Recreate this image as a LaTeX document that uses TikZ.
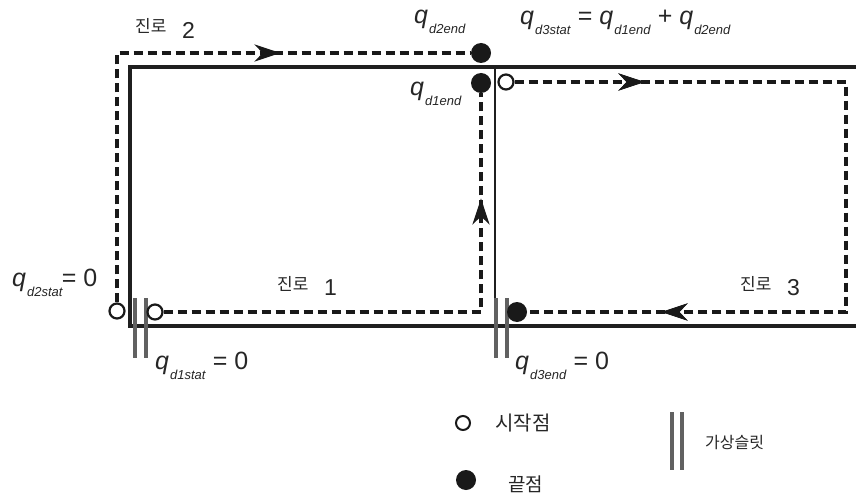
\documentclass[tikz,border=0pt]{standalone}
\usepackage{fontspec}
\setmainfont{Liberation Sans}
\newfontfamily\kr{Noto Sans CJK KR}
\usetikzlibrary{arrows.meta,decorations.markings}
\newcommand\qsub[1]{\textit{q}\kern1pt\raisebox{-0.4em}{\fontsize{13}{13}\selectfont\textit{#1}}}
\begin{document}
\begin{tikzpicture}[x=1pt,y=-1pt,
  wall/.style={line width=3.8pt, black!88},
  slitbar/.style={line width=3.6pt, black!62},
  route/.style={line width=3.3pt, dash pattern=on 9pt off 5pt, black!90},
  startpt/.style={circle, draw=black!90, line width=2.2pt, minimum size=15pt, inner sep=0pt},
  endpt/.style={circle, fill=black!90, minimum size=20pt, inner sep=0pt},
  arrowat/.style={postaction={decorate}, decoration={markings,
     mark=at position #1 with {\arrow{Stealth[length=26pt,width=17pt,inset=8pt]}}}},
  qlabel/.style={font=\fontsize{25}{25}\selectfont, inner sep=0pt, anchor=west, text=black!85},
  krlabel/.style={font=\kr\fontsize{17}{17}\selectfont, inner sep=0pt, anchor=west, text=black!85},
  numlabel/.style={font=\fontsize{23}{23}\selectfont, inner sep=0pt, anchor=west, text=black!85}
]
\useasboundingbox (0,0) rectangle (856,497);

% walls
\draw[wall] (856,67) -- (130,67) -- (130,326) -- (856,326);
\draw[line width=2.6pt, black!88] (495,67) -- (495,298);

% virtual slits
\draw[slitbar] (135,298) -- (135,358);
\draw[slitbar] (146,298) -- (146,358);
\draw[slitbar] (496,298) -- (496,358);
\draw[slitbar] (507,298) -- (507,358);

% points
\node[startpt] (s2) at (117,311) {};
\node[startpt] (s1) at (155,312) {};
\node[startpt] (s3) at (506,82) {};
\node[endpt] (e2) at (481,53) {};
\node[endpt] (e1) at (481,83) {};
\node[endpt] (e3) at (517,312) {};
\coordinate (c1) at (481,312);
\coordinate (c3a) at (846,82);
\coordinate (c3b) at (846,312);

% routes
\draw[route, arrowat=413pt] (s2) |- (e2);
\draw[route, arrowat=431pt] (s1) -- (c1) -- (e1);
\draw[route, arrowat=130pt, arrowat=746pt] (s3) -- (c3a) -- (c3b) -- (e3);

% route labels
\node[krlabel] (r2k) at (135,26) {진로};
\node[numlabel] (r2n) at (182,30) {2};
\node[krlabel] (r1k) at (277,284) {진로};
\node[numlabel] (r1n) at (324,288) {1};
\node[krlabel] (r3k) at (740,284) {진로};
\node[numlabel] (r3n) at (787,288) {3};

% quantity labels
\node[qlabel] (l2end) at (414,22) {\qsub{d2end}};
\node[qlabel] (l3stat) at (520,22) {\qsub{d3stat} = \qsub{d1end} + \qsub{d2end}};
\node[qlabel] (l1end) at (410,94) {\qsub{d1end}};
\node[qlabel] (l2stat) at (12,283) {\qsub{d2stat}\kern-1pt= 0};
\node[qlabel] (l1stat) at (155,366) {\qsub{d1stat} = 0};
\node[qlabel] (l3end) at (515,366) {\qsub{d3end} = 0};

% legend
\node[startpt, minimum size=14pt, line width=2pt] (legs) at (463,423) {};
\node[krlabel, font=\kr\fontsize{20}{20}\selectfont] (legst) at (495,423) {시작점};
\node[endpt, minimum size=20pt] (lege) at (466,480) {};
\node[krlabel, font=\kr\fontsize{19}{19}\selectfont] (leget) at (508,484) {끝점};
\draw[slitbar] (672,412) -- (672,470);
\draw[slitbar] (682,412) -- (682,470);
\node[krlabel, font=\kr\fontsize{16}{16}\selectfont] (legsl) at (705,442) {가상슬릿};
\end{tikzpicture}
\end{document}
